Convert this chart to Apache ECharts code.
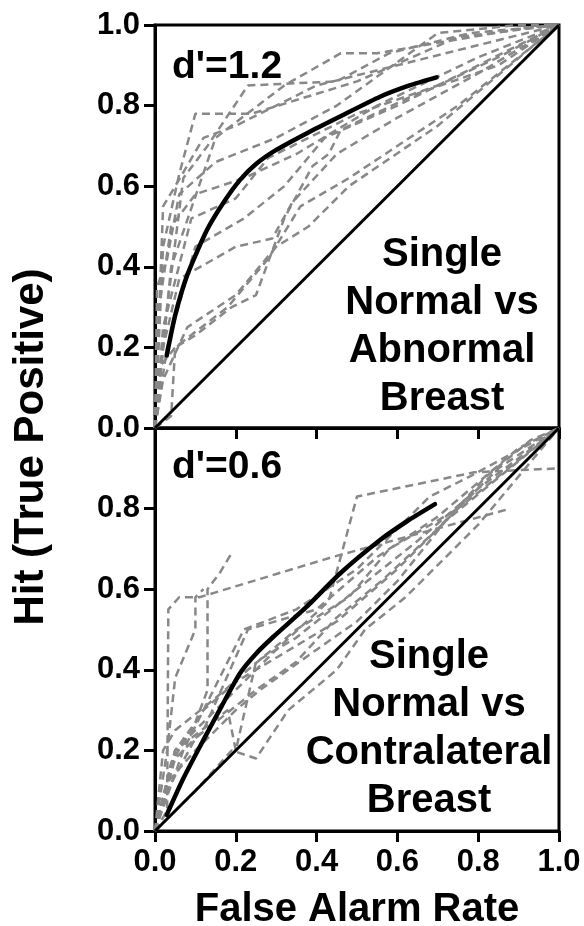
<!DOCTYPE html>
<html>
<head>
<meta charset="utf-8">
<script src="https://cdn.jsdelivr.net/npm/echarts@6/dist/echarts.min.js"></script>
<style>
  html, body { margin: 0; padding: 0; background: #fff; }
  #chart { width: 584px; height: 926px; }
</style>
</head>
<body>
<div id="chart"></div>
<script>
// tick values shared by both panels
var ticks = [0, 0.2, 0.4, 0.6, 0.8, 1.0];

// chance line
var chance = [[0, 0], [1, 1]];

// group-average ROC curves
var meanAbnormal = [[0.029, 0.18], [0.05, 0.28], [0.08, 0.38], [0.128, 0.49], [0.17, 0.56], [0.21, 0.615],
  [0.25, 0.655], [0.3, 0.69], [0.375, 0.731], [0.458, 0.773], [0.557, 0.822], [0.63, 0.85], [0.697, 0.87]];
var meanContra = [[0.029, 0.04], [0.07, 0.13], [0.12, 0.226], [0.165, 0.31], [0.21, 0.391], [0.25, 0.44],
  [0.293, 0.482], [0.375, 0.556], [0.458, 0.639], [0.557, 0.722], [0.623, 0.768], [0.693, 0.811]];

// individual observers, top panel
var runsAbnormal = [
  [[0, 0], [0.02, 0.45], [0.06, 0.63], [0.1, 0.78], [0.24, 0.78], [0.5, 0.86], [0.75, 0.97], [1, 1]],
  [[0, 0], [0.03, 0.3], [0.07, 0.62], [0.13, 0.7], [0.23, 0.85], [0.45, 0.86], [0.58, 0.93], [0.78, 0.98], [1, 1]],
  [[0, 0], [0.04, 0.4], [0.15, 0.72], [0.32, 0.85], [0.46, 0.93], [0.55, 0.93], [0.9, 0.99], [1, 1]],
  [[0, 0], [0.02, 0.25], [0.09, 0.52], [0.2, 0.57], [0.28, 0.67], [0.5, 0.78], [0.7, 0.85], [0.85, 0.92], [1, 1]],
  [[0, 0], [0.03, 0.2], [0.1, 0.45], [0.22, 0.52], [0.32, 0.6], [0.42, 0.72], [0.6, 0.8], [0.8, 0.9], [1, 1]],
  [[0, 0], [0.04, 0.03], [0.05, 0.2], [0.1, 0.23], [0.19, 0.3], [0.25, 0.33], [0.32, 0.52], [0.39, 0.65],
    [0.43, 0.68], [0.46, 0.74], [0.65, 0.83], [0.85, 0.9], [1, 1]],
  [[0, 0], [0.02, 0.2], [0.06, 0.37], [0.2, 0.45], [0.29, 0.47], [0.34, 0.56], [0.45, 0.68], [0.6, 0.77], [0.8, 0.88], [1, 1]],
  [[0, 0], [0.01, 0.15], [0.05, 0.2], [0.18, 0.3], [0.28, 0.42], [0.36, 0.55], [0.48, 0.62], [0.75, 0.8], [1, 1]],
  [[0, 0], [0.02, 0.12], [0.08, 0.25], [0.2, 0.33], [0.3, 0.45], [0.38, 0.5], [0.48, 0.6], [0.7, 0.75], [0.95, 0.96], [1, 1]],
  [[0, 0], [0.02, 0.55], [0.05, 0.6], [0.12, 0.72], [0.2, 0.75], [0.4, 0.85], [0.6, 0.9], [1, 1]],
  [[0, 0], [0.01, 0.3], [0.04, 0.5], [0.1, 0.58], [0.22, 0.62], [0.35, 0.68], [0.55, 0.8], [0.8, 0.92], [1, 1]],
  [[0, 0], [0.005, 0.35], [0.03, 0.42], [0.06, 0.58], [0.15, 0.66], [0.3, 0.72], [0.45, 0.8], [0.7, 0.98], [0.9, 1], [1, 1]]
];

// individual observers, bottom panel
var runsContra = [
  [[0, 0], [0.03, 0.05], [0.033, 0.55], [0.06, 0.58], [0.11, 0.58], [0.44, 0.68], [0.88, 0.8]],
  [[0, 0], [0.05, 0.2], [0.15, 0.3], [0.3, 0.45], [0.43, 0.57], [0.5, 0.83], [0.79, 0.89], [1, 0.9]],
  [[0, 0], [0.05, 0.2], [0.1, 0.27], [0.13, 0.35], [0.13, 0.6], [0.16, 0.64], [0.19, 0.69]],
  [[0, 0], [0.03, 0.2], [0.05, 0.38], [0.1, 0.5], [0.1, 0.58], [0.12, 0.6]],
  [[0, 0], [0.05, 0.18], [0.12, 0.25], [0.23, 0.5], [0.4, 0.55], [0.55, 0.68], [0.7, 0.78], [0.9, 0.95], [1, 1]],
  [[0, 0], [0.04, 0.17], [0.12, 0.3], [0.2, 0.37], [0.3, 0.43], [0.45, 0.52], [0.6, 0.65], [0.75, 0.8], [1, 1]],
  [[0, 0], [0.03, 0.12], [0.1, 0.2], [0.2, 0.3], [0.26, 0.35], [0.4, 0.45], [0.5, 0.52], [0.6, 0.62], [0.72, 0.77], [1, 1]],
  [[0, 0], [0.1, 0.1], [0.19, 0.2], [0.25, 0.18], [0.33, 0.3], [0.45, 0.4], [0.52, 0.5], [0.62, 0.58], [0.8, 0.76], [1, 1]],
  [[0, 0], [0.02, 0.2], [0.05, 0.25], [0.15, 0.33], [0.23, 0.4], [0.35, 0.5], [0.48, 0.58], [0.58, 0.7], [0.75, 0.8], [0.85, 0.9], [1, 1]],
  [[0, 0], [0.05, 0.2], [0.18, 0.3], [0.2, 0.2], [0.25, 0.42], [0.35, 0.48], [0.5, 0.6], [0.65, 0.72], [0.8, 0.85], [1, 1]],
  [[0, 0], [0.03, 0.1], [0.1, 0.23], [0.25, 0.35], [0.35, 0.42], [0.45, 0.53], [0.56, 0.62], [0.7, 0.75], [0.82, 0.88], [0.93, 0.97], [1, 1]],
  [[0, 0], [0.07, 0.2], [0.22, 0.5], [0.35, 0.55], [0.5, 0.65], [0.68, 0.83], [0.78, 0.88], [1, 1]]
];

var FONT = 'Liberation Sans, Arial, sans-serif';

function xAxisFor(grid, showLabels) {
  return {
    type: 'value', gridIndex: grid, min: 0, max: 1, interval: 0.2,
    axisLine: { lineStyle: { color: '#000', width: 3 } },
    axisTick: { show: true, length: 11, lineStyle: { color: '#000', width: 3 } },
    splitLine: { show: false },
    axisLabel: {
      show: showLabels, margin: 16, color: '#000', fontSize: 31, fontWeight: 'bold', fontFamily: FONT,
      formatter: function (v) { return v.toFixed(1); }
    }
  };
}

function yAxisFor(grid, hideTop) {
  return {
    type: 'value', gridIndex: grid, min: 0, max: 1, interval: 0.2,
    axisLine: { lineStyle: { color: '#000', width: 3 } },
    axisTick: { show: true, length: 11, lineStyle: { color: '#000', width: 3 } },
    splitLine: { show: false },
    axisLabel: {
      margin: 15, color: '#000', fontSize: 31, fontWeight: 'bold', fontFamily: FONT,
      formatter: function (v) { return (hideTop && v === 1) ? '' : v.toFixed(1); }
    }
  };
}

function panelSeries(idx, runs, mean) {
  var out = [];
  runs.forEach(function (r) {
    out.push({
      type: 'line', xAxisIndex: idx, yAxisIndex: idx, data: r, symbol: 'none', z: 2,
      lineStyle: { color: '#888', width: 2.5, type: [8, 5] }
    });
  });
  out.push({
    type: 'line', xAxisIndex: idx, yAxisIndex: idx, data: chance, symbol: 'none', z: 4,
    lineStyle: { color: '#000', width: 3 }
  });
  out.push({
    type: 'line', xAxisIndex: idx, yAxisIndex: idx, data: mean, symbol: 'none', smooth: 0.2, z: 5,
    lineStyle: { color: '#000', width: 4.5, cap: 'round', join: 'round' }
  });
  return out;
}

var chart = echarts.init(document.getElementById('chart'));
chart.setOption({
  animation: false,
  backgroundColor: '#fff',
  grid: [
    { left: 155, top: 25, width: 404, height: 403, show: true, borderColor: '#000', borderWidth: 3 },
    { left: 155, top: 428, width: 404, height: 403, show: true, borderColor: '#000', borderWidth: 3 }
  ],
  xAxis: [xAxisFor(0, false), xAxisFor(1, true)],
  yAxis: [yAxisFor(0, false), yAxisFor(1, true)],
  series: panelSeries(0, runsAbnormal, meanAbnormal).concat(panelSeries(1, runsContra, meanContra)),
  graphic: [
    { type: 'text', left: 172, top: 48, z: 10,
      style: { text: "d'=1.2", fill: '#000', font: 'bold 39px ' + FONT } },
    { type: 'text', left: 172, top: 448, z: 10,
      style: { text: "d'=0.6", fill: '#000', font: 'bold 39px ' + FONT } },
    { type: 'text', x: 442, y: 231, z: 10,
      style: { text: 'Single\nNormal vs\nAbnormal\nBreast', fill: '#000', font: 'bold 40px ' + FONT,
        align: 'center', verticalAlign: 'top', lineHeight: 48 } },
    { type: 'text', x: 429, y: 633, z: 10,
      style: { text: 'Single\nNormal vs\nContralateral\nBreast', fill: '#000', font: 'bold 40px ' + FONT,
        align: 'center', verticalAlign: 'top', lineHeight: 48 } },
    { type: 'text', x: 357, y: 910, z: 10,
      style: { text: 'False Alarm Rate', fill: '#000', font: 'bold 40px ' + FONT,
        align: 'center', verticalAlign: 'middle' } },
    { type: 'text', x: 31, y: 447, rotation: Math.PI / 2, z: 10,
      style: { text: 'Hit (True Positive)', fill: '#000', font: 'bold 42px ' + FONT,
        align: 'center', verticalAlign: 'middle' } }
  ]
});
</script>
</body>
</html>
